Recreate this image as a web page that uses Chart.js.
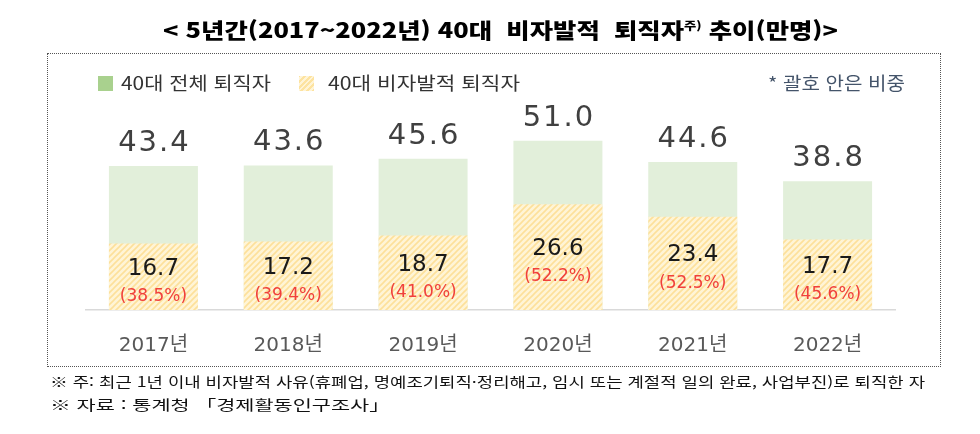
<!DOCTYPE html>
<html lang="ko">
<head>
<meta charset="utf-8">
<script src="https://cdn.jsdelivr.net/npm/chart.js"></script>
<style>
  html, body { margin: 0; padding: 0; background: #fff; }
  #wrap { position: relative; width: 980px; height: 434px; overflow: hidden; font-family: "Noto Sans CJK KR", sans-serif; }
  #chart { position: absolute; left: 0; top: 0; }
  #box { position: absolute; left: 47px; top: 53px; width: 892px; height: 312px; border: 1px dotted #555; }
  .txt { position: absolute; white-space: nowrap; transform-origin: 0 50%; line-height: 1; }
  #title { top: 19px; left: 163px; font-size: 21px; font-weight: 900; color: #000; }
  #title sup { font-size: 11px; vertical-align: 8px; }
  .legend { top: 73px; font-size: 18px; color: #333; }
  .swatch { position: absolute; top: 76px; width: 15px; height: 15px; }
  #note { top: 73px; left: 768px; font-size: 18px; color: #44546a; }
  .foot { font-size: 14px; color: #111; }
</style>
</head>
<body>
<div id="wrap">
  <canvas id="chart" width="980" height="434"></canvas>
  <div id="box"></div>
  <div class="txt" id="title" data-w="675">&lt; 5년간(2017~2022년) 40대&nbsp; 비자발적&nbsp; 퇴직자<sup>주)</sup> 추이(만명)&gt;</div>
  <div class="swatch" style="left:98px;background:#a9d18e"></div>
  <div class="txt legend" style="left:121px" data-w="150">40대 전체 퇴직자</div>
  <div class="swatch" style="left:299px;background:repeating-linear-gradient(-45deg,#fde3a0 0 2px,#fff4d6 2px 4px)"></div>
  <div class="txt legend" style="left:328px" data-w="192">40대 비자발적 퇴직자</div>
  <div class="txt" id="note" data-w="137">* 괄호 안은 비중</div>
  <div class="txt foot" style="left:50px;top:374px" data-w="875">※ 주: 최근 1년 이내 비자발적 사유(휴폐업, 명예조기퇴직·정리해고, 임시 또는 계절적 일의 완료, 사업부진)로 퇴직한 자</div>
  <div class="txt foot" style="left:50px;top:397px" data-w="340">※ 자료 : 통계청 「경제활동인구조사」</div>
</div>
<script>
// data (만명)
const years = ["2017년", "2018년", "2019년", "2020년", "2021년", "2022년"];
const totalRetirees = [43.4, 43.6, 45.6, 51.0, 44.6, 38.8];
const involuntaryRetirees = [16.7, 17.2, 18.7, 26.6, 23.4, 17.7];
const involuntaryShare = [38.5, 39.4, 41.0, 52.2, 52.5, 45.6];

// squeeze texts to the widths of the original (condensed fonts)
document.querySelectorAll(".txt[data-w]").forEach((el) => {
  const w = el.getBoundingClientRect().width;
  el.style.transform = "scaleX(" + (Number(el.dataset.w) / w) + ")";
});

// yellow hatch
function makeHatch() {
  const c = document.createElement("canvas");
  c.width = 6;
  c.height = 6;
  const g = c.getContext("2d");
  g.fillStyle = "#fff4d6";
  g.fillRect(0, 0, 6, 6);
  g.strokeStyle = "#fde09a";
  g.lineWidth = 1.6;
  g.beginPath();
  g.moveTo(-1, 7); g.lineTo(7, -1);
  g.moveTo(-1, 1); g.lineTo(1, -1);
  g.moveTo(5, 7); g.lineTo(7, 5);
  g.stroke();
  return g.createPattern(c, "repeat");
}

const valueLabels = {
  id: "valueLabels",
  afterDatasetsDraw(chart) {
    const ctx = chart.ctx;
    const yellow = chart.getDatasetMeta(0).data;
    const green = chart.getDatasetMeta(1).data;
    ctx.save();
    ctx.textAlign = "center";
    green.forEach((bar, i) => {
      ctx.font = '29px "DejaVu Sans"';
      ctx.letterSpacing = "2px";
      ctx.fillStyle = "#404040";
      ctx.textBaseline = "alphabetic";
      ctx.fillText(totalRetirees[i].toFixed(1), bar.x + 1, bar.y - 15);
    });
    yellow.forEach((bar, i) => {
      const mid = (bar.y + bar.base) / 2;
      ctx.letterSpacing = "0px";
      ctx.textBaseline = "middle";
      ctx.font = '23px "DejaVu Sans"';
      ctx.fillStyle = "#1a1a1a";
      ctx.fillText(involuntaryRetirees[i].toFixed(1), bar.x, mid - 8);
      ctx.font = '17px "DejaVu Sans"';
      ctx.fillStyle = "#f0403c";
      ctx.fillText("(" + involuntaryShare[i].toFixed(1) + "%)", bar.x, mid + 20);
    });
    ctx.restore();
  },
};

new Chart(document.getElementById("chart"), {
  type: "bar",
  data: {
    labels: years,
    datasets: [
      {
        label: "40대 비자발적 퇴직자",
        data: involuntaryRetirees,
        backgroundColor: makeHatch(),
        yAxisID: "y2",
        grouped: false,
        order: 0,
      },
      {
        label: "40대 전체 퇴직자",
        data: totalRetirees,
        backgroundColor: "#e2efda",
        yAxisID: "y",
        grouped: false,
        order: 1,
      },
    ],
  },
  options: {
    responsive: false,
    animation: false,
    layout: { padding: { left: 86, right: 85, top: 111, bottom: 52 } },
    datasets: { bar: { barPercentage: 0.66, categoryPercentage: 1 } },
    plugins: { legend: { display: false }, tooltip: { enabled: false } },
    scales: {
      x: {
        grid: { display: false, drawTicks: false },
        border: { color: "#d9d9d9", width: 1.5 },
        ticks: { color: "#595959", padding: 24, font: { family: '"DejaVu Sans", "Noto Sans CJK KR"', size: 20 } },
      },
      y: { display: false, min: 0, max: 60 },
      y2: { display: false, min: 0, max: 50 },
    },
  },
  plugins: [valueLabels],
});
</script>
</body>
</html>
